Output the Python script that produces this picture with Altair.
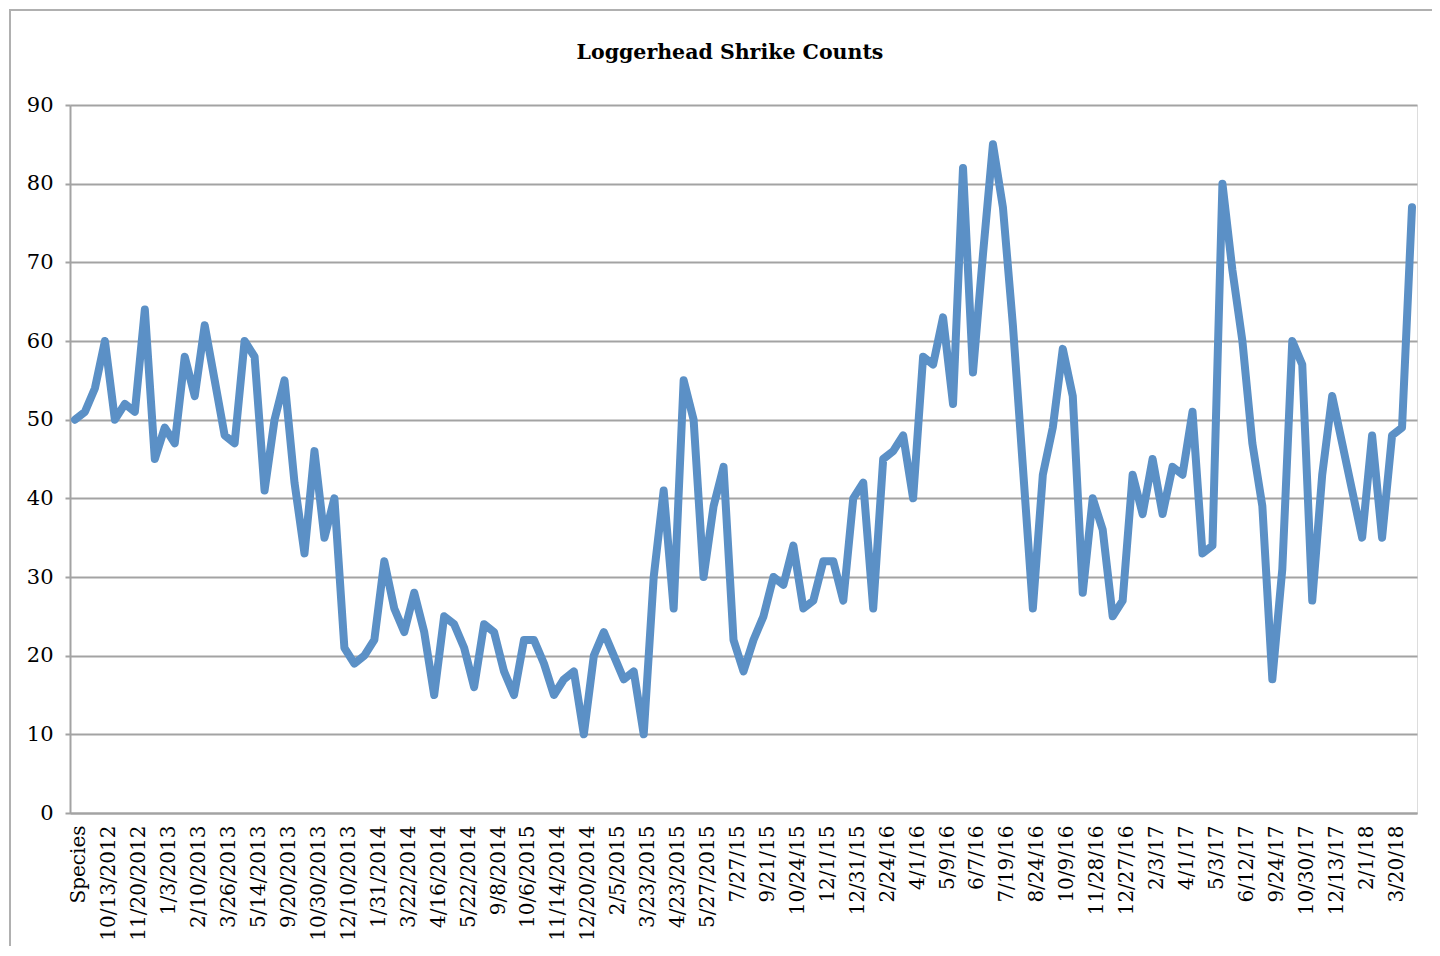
import altair as alt
import pandas as pd

counts = [
    50, 51, 54, 60, 50, 52, 51, 64, 45, 49,
    47, 58, 53, 62, 55, 48, 47, 60, 58, 41,
    50, 55, 42, 33, 46, 35, 40, 21, 19, 20,
    22, 32, 26, 23, 28, 23, 15, 25, 24, 21,
    16, 24, 23, 18, 15, 22, 22, 19, 15, 17,
    18, 10, 20, 23, 20, 17, 18, 10, 30, 41,
    26, 55, 50, 30, 39, 44, 22, 18, 22, 25,
    30, 29, 34, 26, 27, 32, 32, 27, 40, 42,
    26, 45, 46, 48, 40, 58, 57, 63, 52, 82,
    56, 71, 85, 77, 62, 44, 26, 43, 49, 59,
    53, 28, 40, 36, 25, 27, 43, 38, 45, 38,
    44, 43, 51, 33, 34, 80, 69, 60, 47, 39,
    17, 31, 60, 57, 27, 43, 53, 47, 41, 35,
    48, 35, 48, 49, 77,
]

tick_labels = [
    "Species", "10/13/2012", "11/20/2012", "1/3/2013", "2/10/2013",
    "3/26/2013", "5/14/2013", "9/20/2013", "10/30/2013", "12/10/2013",
    "1/31/2014", "3/22/2014", "4/16/2014", "5/22/2014", "9/8/2014",
    "10/6/2015", "11/14/2014", "12/20/2014", "2/5/2015", "3/23/2015",
    "4/23/2015", "5/27/2015", "7/27/15", "9/21/15", "10/24/15",
    "12/1/15", "12/31/15", "2/24/16", "4/1/16", "5/9/16",
    "6/7/16", "7/19/16", "8/24/16", "10/9/16", "11/28/16",
    "12/27/16", "2/3/17", "4/1/17", "5/3/17", "6/12/17",
    "9/24/17", "10/30/17", "12/13/17", "2/1/18", "3/20/18",
]
label_step = 3

chart_title = "Loggerhead Shrike Counts"

df = pd.DataFrame({"idx": list(range(len(counts))), "count": counts})

W, H = 1347, 708
GREY = "#a3a3a3"
FONT = "DejaVu Serif"

label_array = "[" + ",".join("'" + s + "'" for s in tick_labels) + "]"
label_expr = f"{label_array}[round(datum.value / {label_step})]"

line = alt.Chart(df).mark_line(
    color="#5b90c6", strokeWidth=8, strokeCap="round", strokeJoin="round"
).encode(
    x=alt.X(
        "idx:Q",
        scale=alt.Scale(domain=[-0.5, len(counts) - 0.5], nice=False, zero=False),
        axis=alt.Axis(
            title=None,
            values=list(range(0, len(tick_labels) * label_step, label_step)),
            labelExpr=label_expr,
            labelAngle=270,
            labelAlign="right",
            labelBaseline="middle",
            labelPadding=12,
            labelOffset=4,
            labelFont=FONT,
            labelFontSize=20,
            labelLimit=300,
            labelColor="#000000",
            labelOverlap=False,
            ticks=False,
            grid=False,
            domainColor=GREY,
            domainWidth=2,
        ),
    ),
    y=alt.Y(
        "count:Q",
        scale=alt.Scale(domain=[0, 90], nice=False),
        axis=alt.Axis(
            title=None,
            values=list(range(0, 91, 10)),
            labelFont=FONT,
            labelFontSize=21,
            labelColor="#000000",
            labelPadding=12,
            tickSize=5,
            tickColor=GREY,
            tickWidth=2,
            domainColor=GREY,
            domainWidth=2,
            gridColor=GREY,
            gridWidth=2,
        ),
    ),
)

one_row = alt.Data(values=[{"t": chart_title}])

frame = alt.Chart(one_row).mark_rect(
    filled=False, stroke="#b0b0b0", strokeWidth=2
).encode(
    x=alt.value(-60), x2=alt.value(W + 100), y=alt.value(-95), y2=alt.value(H + 200)
)

title = alt.Chart(one_row).mark_text(
    font=FONT, fontSize=20.5, fontWeight="bold", color="#000000",
    align="center", baseline="middle",
).encode(
    text="t:N", x=alt.value(660), y=alt.value(-52)
)

chart = alt.layer(frame, line, title).properties(
    width=W,
    height=H,
    autosize=alt.AutoSizeParams(type="none"),
    padding={"left": 62, "top": 97, "right": 15, "bottom": 133},
).configure_view(strokeOpacity=0).configure(background="white")

chart.save("out.html", embed_options={"renderer": "svg", "actions": False})
